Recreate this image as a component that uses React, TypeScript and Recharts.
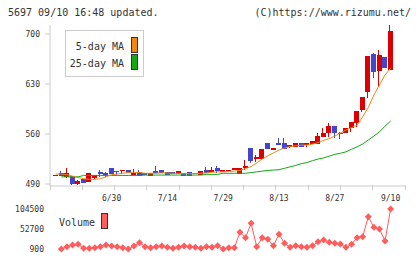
import React from "react";
import { ComposedChart, Bar, Line, XAxis, YAxis } from "recharts";

// tick labels on the date axis and the candle index they sit under
const tickLabels = ["6/30", "7/14", "7/29", "8/13", "8/27", "9/10"];
const tickLabelIndex = [10, 20, 30, 40, 50, 60];

const open = [
  503, 505, 499.4, 501.6, 490.4, 497, 492.8, 498.9, 506.3, 505,
  512, 508.6, 508, 509, 502.6, 506.3, 505.5, 501.6, 508.2, 509.6,
  506.8, 506.3, 504.4, 505.4, 506.3, 503.5, 502.8, 510, 507, 512.6,
  507, 508, 509, 504.7, 513, 540, 525, 525, 547.4, 538,
  547.8, 547.4, 541.3, 542, 547.4, 544, 546.4, 546.4, 556, 561,
  571, 561.8, 561, 568, 576, 593.6, 619, 671.6, 648.6, 668,
  650,
];
const close = [
  503, 501.6, 505, 490, 494.9, 491.4, 505.4, 502, 503.5, 503,
  503.5, 506.3, 509.6, 505, 505, 501.6, 502, 505.8, 505, 505.8,
  503, 504, 508.2, 501.6, 501.6, 505.4, 508.4, 506, 510, 508,
  509.6, 510, 512, 512.5, 515.5, 522.6, 527.3, 539, 538.6, 540.8,
  545, 539, 544, 547.4, 542, 547, 550.6, 557.6, 561.8, 571,
  561, 560, 569, 577, 592.6, 612, 669, 647, 670.6, 653,
  704.6,
];
const high = [
  503, 508, 513, 501.6, 496, 497, 505.4, 502, 509.6, 507,
  512, 508.6, 509.6, 509, 510.5, 509, 505.5, 505.8, 515, 509.6,
  506.8, 506.3, 508.2, 505.4, 506.3, 505.4, 508.4, 513.4, 513.4, 515.5,
  509.6, 510, 512, 512.5, 523.6, 540.5, 530.6, 539, 547.4, 540.8,
  554, 554, 545, 547.4, 547.4, 547, 550.6, 561, 568, 575,
  571, 563, 569, 577, 592.6, 612, 669, 673, 677.6, 668,
  712,
];
const low = [
  503, 501.6, 498, 489, 489, 491.4, 492.8, 496.5, 500.2, 499.4,
  503.5, 502.6, 504, 505, 502.6, 501.6, 502, 501.6, 505, 505.8,
  503, 504, 504.4, 501.6, 501.6, 503.5, 502.8, 505, 506.5, 505.5,
  507, 508, 509, 504.7, 509.6, 519, 521, 525, 538.6, 538,
  544, 539, 540, 542, 542, 542, 546.4, 546.4, 556, 556,
  554, 553, 561, 563, 570, 591, 610, 639, 626, 653,
  650,
];
const ma5 = [
  504, 504, 503, 501, 499, 497.5, 496.5, 496.5, 497.5, 500,
  503, 504, 505, 506, 506.5, 506, 505, 505, 505, 505.5,
  505.5, 505, 505, 504.5, 504.5, 504.5, 505, 505.5, 506.5, 507,
  507, 507.5, 508, 509, 511.5, 514.5, 519.5, 525, 529.5, 533.5,
  537.5, 540.5, 542.5, 543.5, 544.3, 544.6, 545.8, 548, 551, 553.5,
  557, 561.5, 565.6, 569, 572.6, 584, 597, 614.6, 628.6, 642.6,
  652,
];
const ma25 = [
  null, 500, 500, 500, 500, 502, 502, 502, 502, 502,
  502, 502, 502, 502, 502, 502, 502.5, 502.5, 502.5, 502.5,
  502.5, 502.5, 502.5, 502.5, 502.5, 502.5, 502.5, 503.5, 503.5, 503.5,
  505, 505, 505, 505, 505, 506, 507, 508, 509, 509.5,
  510, 512, 514, 516, 518.5, 520, 522.6, 525, 526.5, 529,
  531.5, 533, 535, 538.6, 542, 546, 551.6, 557, 563, 571,
  578,
];
const volume = [
  null, 900, 6900, 11300, 13000, 2600, 2600, 4400, 6900, 11300,
  8700, 6900, 4400, 900, 8700, 17300, 6900, 4400, 6900, 8700,
  5200, 2600, 5200, 8700, 6900, 5200, 2600, 6900, 5200, 9500,
  900, 4400, 4400, 44000, 30200, 67300, 6900, 30200, 25900, 9500,
  38900, 15600, 5200, 9500, 6900, 5200, 9500, 19900, 24200, 18200,
  15600, 13800, 5200, 13000, 30200, 32800, 84600, 57000, 52700, 21600,
  104500,
];

const priceTicks = [490, 560, 630, 700];
const volumeTicks = [900, 52700, 104500];

const RED = "#dd0000";
const BLUE = "#4444cc";
const ORANGE = "#ee8811";
const GREEN = "#11a811";
const VOL = "#ff5c5c";
const GRID = "#cccccc";
const TEXT = "#333333";
const MONO = "'DejaVu Sans Mono', monospace";

const X_DOMAIN: [number, number] = [-1.04, 62.58];
const PLOT_W = 355;
const unit = PLOT_W / (X_DOMAIN[1] - X_DOMAIN[0]);
const padLeft = (-X_DOMAIN[0] - 0.5) * unit;
const padRight = (X_DOMAIN[1] - (open.length - 1) - 0.5) * unit;
// evenly spaced tick marks along the date axis
const marks = Array.from(
  { length: 12 },
  (_, k) => X_DOMAIN[0] + (k * (X_DOMAIN[1] - X_DOMAIN[0])) / 11
);
const dateTicks = [...marks, ...tickLabelIndex].sort((a, b) => a - b);

const rows = open.map((o, i) => ({
  idx: i,
  open: o,
  close: close[i],
  high: high[i],
  low: low[i],
  ma5: ma5[i],
  ma25: ma25[i],
}));
const volRows = volume.map((v, i) => ({ idx: i, vol: v }));

const Candle = (props: any) => {
  const { x, y, width, height, payload } = props;
  if (x == null || y == null) return null;
  const { open: o, close: c, high: h, low: l } = payload;
  const color = c >= o ? RED : BLUE;
  const top = Math.min(y, y + height);
  const hh = Math.abs(height);
  const span = h - l || 1;
  const py = (v: number) => top + ((h - v) / span) * hh;
  const cx = Math.round(x + width / 2) - 0.5;
  const bTop = py(Math.max(o, c));
  const bBot = py(Math.min(o, c));
  return (
    <g>
      <line x1={cx} x2={cx} y1={top} y2={top + hh} stroke={color} shapeRendering="crispEdges" />
      <rect
        x={x}
        y={bTop}
        width={width}
        height={Math.max(1, bBot - bTop)}
        fill={color}
        shapeRendering="crispEdges"
      />
    </g>
  );
};

// the date axis is 1px tall, so y is the axis line
const DateTick = (props: any) => {
  const { x, y, payload } = props;
  const k = tickLabelIndex.indexOf(payload.value);
  if (k >= 0) {
    return (
      <text x={x} y={y + 15} textAnchor="middle" fontSize={8} fill={TEXT} fontFamily={MONO}>
        {tickLabels[k]}
      </text>
    );
  }
  return <line x1={x} x2={x} y1={y - 1} y2={y + 4} stroke={GRID} shapeRendering="crispEdges" />;
};

const Diamond = (props: any) => {
  const { cx, cy, index } = props;
  if (cx == null || cy == null) return <g key={index} />;
  const r = 3.5;
  return (
    <polygon
      key={index}
      points={`${cx},${cy - r} ${cx + r},${cy} ${cx},${cy + r} ${cx - r},${cy}`}
      fill={VOL}
    />
  );
};

export default function App() {
  return (
    <div style={{ position: "absolute", left: 0, top: 0, width: 420, height: 259, background: "#fff" }}>
      <div style={{ position: "absolute", left: 0, top: 0 }}>
        <ComposedChart width={420} height={259} data={rows} margin={{ top: 25, right: 15, bottom: 72, left: 0 }}>
          <XAxis
            xAxisId="c"
            dataKey="idx"
            type="category"
            orientation="top"
            height={0}
            hide
            padding={{ left: padLeft, right: padRight }}
          />
          <XAxis
            xAxisId="t"
            dataKey="idx"
            type="number"
            domain={X_DOMAIN}
            allowDataOverflow
            ticks={dateTicks}
            interval={0}
            height={1}
            tickLine={false}
            tickSize={0}
            tickMargin={0}
            axisLine={{ stroke: GRID }}
            tick={DateTick}
          />
          <YAxis
            domain={[487.2, 712.6]}
            allowDataOverflow
            ticks={priceTicks}
            width={50}
            tickSize={5}
            tickMargin={5}
            axisLine={{ stroke: GRID }}
            tickLine={{ stroke: GRID }}
            tick={{ fontSize: 8, fill: TEXT, fontFamily: MONO }}
          />
          <Bar
            xAxisId="c"
            dataKey={(d: any) => [d.low, d.high]}
            barSize={5}
            shape={Candle}
            isAnimationActive={false}
          />
          <Line xAxisId="t" dataKey="ma25" stroke={GREEN} strokeWidth={1} dot={false} isAnimationActive={false} />
          <Line xAxisId="t" dataKey="ma5" stroke={ORANGE} strokeWidth={1} dot={false} isAnimationActive={false} />
        </ComposedChart>
      </div>
      <div style={{ position: "absolute", left: 0, top: 200 }}>
        <ComposedChart width={420} height={59} data={volRows} margin={{ top: 9, right: 15, bottom: 10, left: 0 }}>
          <XAxis dataKey="idx" type="number" domain={X_DOMAIN} hide />
          <YAxis
            domain={[900, 104500]}
            ticks={volumeTicks}
            width={50}
            axisLine={false}
            tickLine={false}
            tickSize={0}
            tickMargin={6}
            tick={{ fontSize: 8, fill: TEXT, fontFamily: MONO }}
          />
          <Line dataKey="vol" stroke={VOL} strokeWidth={1} dot={Diamond} isAnimationActive={false} />
        </ComposedChart>
      </div>
      <svg
        width={420}
        height={259}
        style={{ position: "absolute", left: 0, top: 0, pointerEvents: "none" }}
        fontFamily={MONO}
      >
        <text x={8} y={16} fontSize={10} fill={TEXT}>5697 09/10 16:48 updated.</text>
        <text x={411} y={16} fontSize={10} fill={TEXT} textAnchor="end">(C)https://www.rizumu.net/</text>
        <rect x={65.5} y={30.5} width={78} height={46} fill="#fff" stroke={GRID} />
        <text x={124} y={49.5} fontSize={10} fill={TEXT} textAnchor="end">5-day MA</text>
        <text x={124} y={66.5} fontSize={10} fill={TEXT} textAnchor="end">25-day MA</text>
        <rect x={131.5} y={37.5} width={6} height={15} fill={ORANGE} stroke="#333" />
        <rect x={131.5} y={54.5} width={6} height={15} fill={GREEN} stroke="#333" />
        <text x={95} y={226} fontSize={10} fill={TEXT} textAnchor="end">Volume</text>
        <rect x={101.5} y={213.5} width={6} height={15} fill={VOL} stroke="#333" />
      </svg>
    </div>
  );
}
